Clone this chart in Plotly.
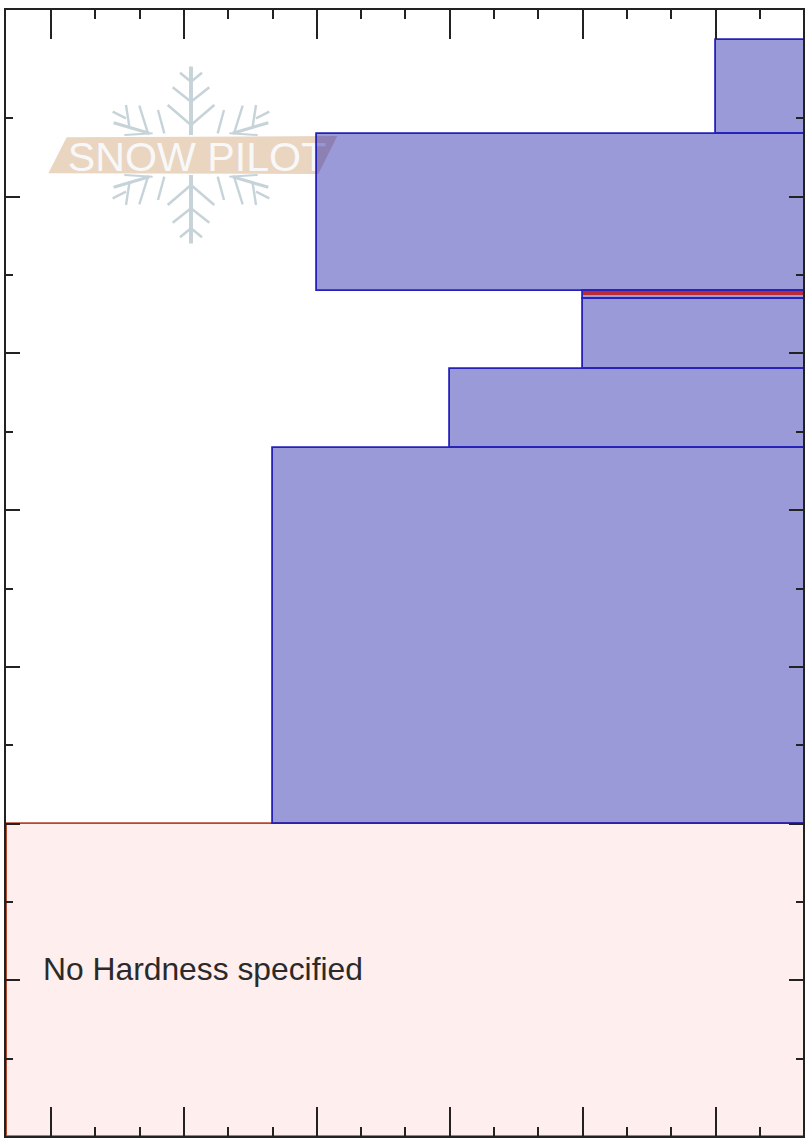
import plotly.graph_objects as go

# Layer data: height above ground (cm) and hardness index of the left edge
layer_bottom = [0, 20, 44, 49, 53.5, 54, 64]
layer_top = [20, 44, 49, 53.5, 54, 64, 70]
layer_hardness = [-1 / 3, 5 / 3, 3, 4, 4, 2, 5]
layer_fill = ["rgba(235,20,20,0.07)"] + ["rgba(0,0,160,0.395)"] * 6
layer_edge = ["#b4492c"] + ["#2420b8"] * 6
thin_band = {"bottom": 53.72, "top": 53.97, "left": 4, "color": "rgba(190,25,25,0.85)"}
axis_right = 6

x_major = [0, 1, 2, 3, 4, 5]
x_minor = [-1 / 3, 1 / 3, 2 / 3, 4 / 3, 5 / 3, 7 / 3, 8 / 3, 10 / 3, 11 / 3, 13 / 3, 14 / 3, 16 / 3]
y_major = [10, 20, 30, 40, 50, 60]
y_minor = [5, 15, 25, 35, 45, 55, 65]
note_text = "No Hardness specified"
logo_text = "SNOW PILOT"

W, H = 809, 1140
L, R, T, B = 6, 803, 10, 1136


def px(x):
    return (x - L) / (R - L)


def py(y):
    return (B - y) / (B - T)


fig = go.Figure()
fig.add_trace(go.Bar(
    orientation="h",
    y=[(a + b) / 2 for a, b in zip(layer_bottom, layer_top)],
    width=[b - a for a, b in zip(layer_bottom, layer_top)],
    base=layer_hardness,
    x=[axis_right - h for h in layer_hardness],
    marker=dict(color=layer_fill, line=dict(color=layer_edge, width=1.8)),
    hoverinfo="skip",
))
fig.add_trace(go.Bar(
    orientation="h",
    y=[(thin_band["bottom"] + thin_band["top"]) / 2],
    width=[thin_band["top"] - thin_band["bottom"]],
    base=[thin_band["left"]],
    x=[axis_right - thin_band["left"]],
    marker=dict(color=thin_band["color"], line=dict(width=0)),
    hoverinfo="skip",
))
fig.add_trace(go.Scatter(
    x=[-0.06], y=[10.5], mode="text", text=[note_text], textposition="middle right",
    textfont=dict(family="Liberation Sans", size=31.8, color="#2a2a2a"), hoverinfo="skip",
))

# Watermark (drawn beneath the layers), geometry in 3x crop pixels
shapes = []
CX, CY = 573 / 3, 465 / 3


def seg(dx1, dy1, dx2, dy2, width=3.0, color="#c6d3d9"):
    for sx in (1, -1):
        for sy in (1, -1):
            shapes.append(dict(
                type="line", xref="paper", yref="paper", layer="below",
                x0=px(CX + sx * dx1 / 3), y0=py(CY + sy * dy1 / 3),
                x1=px(CX + sx * dx2 / 3), y1=py(CY + sy * dy2 / 3),
                line=dict(color=color, width=width),
            ))


flake = [
    (0, 60, 0, 265, 3.6), (0, 220, 33, 247, 2.6), (0, 160, 55, 203, 2.6), (0, 90, 70, 150, 2.6),
    (80, 65, 99, 135, 2.4),
    (125, 65, 232, 97, 3.2), (195, 110, 235, 130, 2.4), (185, 85, 195, 150, 2.4),
    (130, 68, 155, 148, 2.4), (115, 65, 200, 60, 2.0),
]
for f in flake:
    seg(*f[:4], width=f[4])

band_x = [145, 200, 1012, 955]
band_y = [520, 412, 408, 522]
band_path = "M " + " L ".join(
    f"{px(a / 3):.5f} {py(b / 3):.5f}" for a, b in zip(band_x, band_y)) + " Z"
shapes.append(dict(
    type="path", xref="paper", yref="paper", layer="below", path=band_path,
    fillcolor="#ead5c1", line=dict(width=0),
))
shapes.append(dict(
    type="rect", xref="paper", yref="paper", layer="below",
    x0=px(68), x1=px(326), y0=py(172), y1=py(134),
    fillcolor="rgba(0,0,0,0)", line=dict(width=0),
    label=dict(text=logo_text, textposition="middle center",
               font=dict(family="Liberation Sans", size=41.2, color="#f8f8f8")),
))

fig.update_layout(
    width=W, height=H,
    margin=dict(l=L, r=W - R, t=T, b=H - B, pad=0),
    paper_bgcolor="white", plot_bgcolor="white",
    barmode="overlay", bargap=0, showlegend=False,
    shapes=shapes,
    xaxis=dict(
        range=[-0.3386, 5.658], showgrid=False, zeroline=False, showticklabels=False,
        showline=True, linecolor="#222", linewidth=2, mirror="allticks",
        ticks="inside", tickmode="array", tickvals=x_major, ticklen=29, tickwidth=1.6, tickcolor="#222",
        minor=dict(ticks="inside", tickmode="array", tickvals=x_minor, ticklen=9, tickwidth=1.6,
                   tickcolor="#222", showgrid=False),
    ),
    yaxis=dict(
        range=[0.064, 71.92], showgrid=False, zeroline=False, showticklabels=False,
        showline=True, linecolor="#222", linewidth=2, mirror="allticks",
        ticks="inside", tickmode="array", tickvals=y_major, ticklen=14, tickwidth=1.6, tickcolor="#222",
        minor=dict(ticks="inside", tickmode="array", tickvals=y_minor, ticklen=7, tickwidth=1.6,
                   tickcolor="#222", showgrid=False),
    ),
)

fig.write_html("out.html", config={"displayModeBar": False},
               post_script="document.body.style.margin='0';document.documentElement.style.overflow='hidden';")
